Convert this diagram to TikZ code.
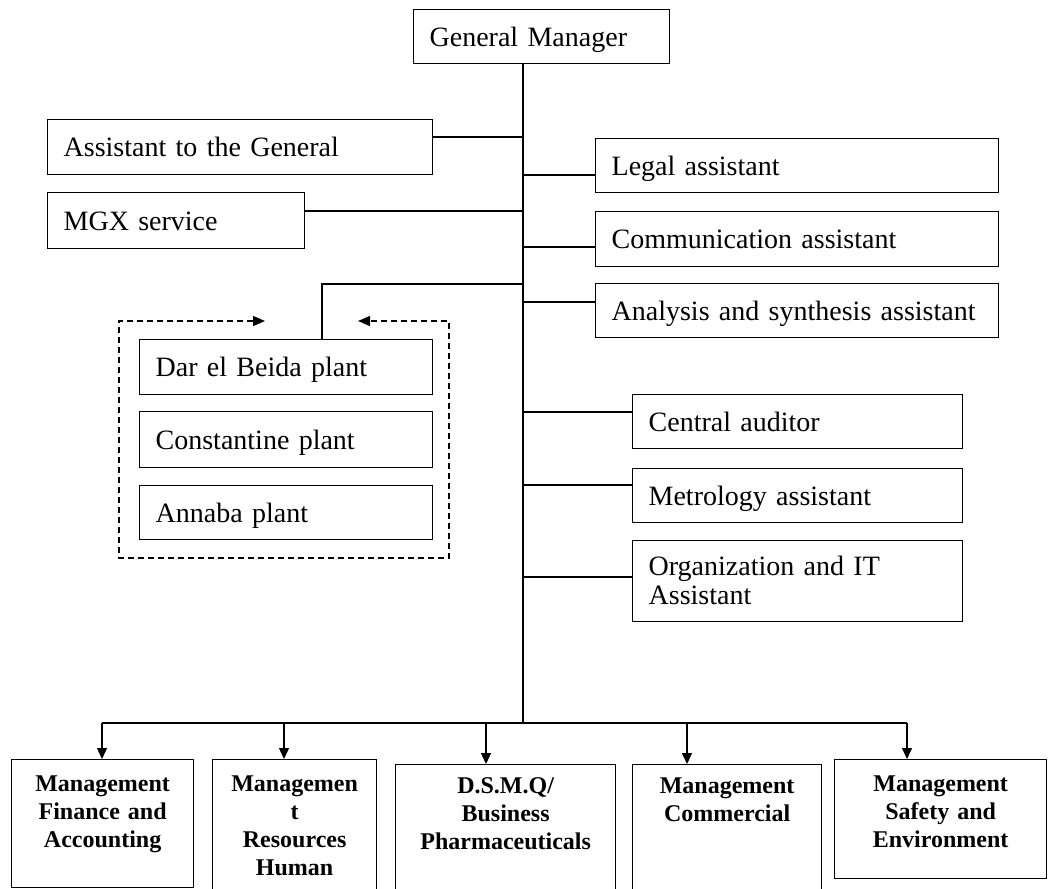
\documentclass[tikz,border=0pt]{standalone}
\usepackage{fontspec}
\setmainfont{Liberation Serif}
\usetikzlibrary{arrows.meta}
\begin{document}
\begin{tikzpicture}[x=1pt,y=-1pt,
  ln/.style={line width=1.3pt},
  box/.style={draw, line width=1.3pt, rectangle, anchor=north west, inner xsep=16pt, inner ysep=0pt, align=left, text height=22pt, text depth=3pt, font=\fontsize{28}{29}\selectfont},
  bbox/.style={draw, line width=1.3pt, rectangle, anchor=north west, inner xsep=4pt, inner ysep=0pt, align=center, text height=17pt, font=\bfseries\fontsize{24}{28}\selectfont},
  arr/.style={line width=1.3pt, -{Triangle[length=11pt,width=10pt]}},
  dashframe/.style={line width=1.3pt, dash pattern=on 6pt off 4pt, {Triangle[length=12pt,width=10pt]}-{Triangle[length=12pt,width=10pt]}}
]
\useasboundingbox (0,0) rectangle (1048,888);
\clip (0,0) rectangle (1048,888);

% top
\node[box, minimum width=256pt, minimum height=54pt, text width=224pt] (gm) at (413,9) {General Manager};
% left
\node[box, minimum width=385pt, minimum height=55pt, text width=353pt] (a1) at (47,119) {Assistant to the General};
\node[box, minimum width=257pt, minimum height=56pt, text width=225pt] (a2) at (47,192) {MGX service};
% right
\node[box, minimum width=403pt, minimum height=54pt, text width=371pt] (r1) at (595,138) {Legal assistant};
\node[box, minimum width=403pt, minimum height=55pt, text width=371pt] (r2) at (595,211) {Communication assistant};
\node[box, minimum width=403pt, minimum height=54pt, text width=371pt] (r3) at (595,283) {Analysis and synthesis assistant};
% plants
\node[box, minimum width=293pt, minimum height=55pt, text width=261pt] (p1) at (139,339) {Dar el Beida plant};
\node[box, minimum width=293pt, minimum height=56pt, text width=261pt] (p2) at (139,411) {Constantine plant};
\node[box, minimum width=293pt, minimum height=54pt, text width=261pt] (p3) at (139,485) {Annaba plant};
% lower right
\node[box, minimum width=330pt, minimum height=54pt, text width=298pt] (c1) at (632,394) {Central auditor};
\node[box, minimum width=330pt, minimum height=54pt, text width=298pt] (c2) at (632,468) {Metrology assistant};
\node[box, minimum width=330pt, minimum height=81pt, text width=298pt, text depth=33pt] (c3) at (632,540) {Organization and IT\\Assistant};
% bottom
\node[bbox, minimum width=182pt, minimum height=128pt, text width=174pt, text depth=81pt] (b1) at (11,759) {Management\\Finance and\\Accounting};
\node[bbox, minimum width=164pt, minimum height=141pt, text width=156pt, text depth=94pt] (b2) at (212,759) {Managemen\\t\\Resources\\Human};
\node[bbox, minimum width=220pt, minimum height=136pt, text width=212pt, text depth=95pt] (b3) at (395,764) {D.S.M.Q/\\Business\\Pharmaceuticals};
\node[bbox, minimum width=189pt, minimum height=136pt, text width=181pt, text depth=95pt] (b4) at (632,764) {Management\\Commercial};
\node[bbox, minimum width=212pt, minimum height=119pt, text width=204pt, text depth=72pt] (b5) at (834,759) {Management\\Safety and\\Environment};

% trunk
\coordinate (tb) at (523,723);
\coordinate (t0) at (tb |- gm.south);
\draw[ln] (t0) -- (tb);
\coordinate (j1) at (523,137);
\coordinate (j2) at (523,211);
\coordinate (j3) at (523,175);
\coordinate (j4) at (523,247);
\coordinate (j5) at (523,302);
\coordinate (j6) at (523,284);
\coordinate (k6) at (322,284);
\coordinate (j7) at (523,412);
\coordinate (j8) at (523,485);
\coordinate (j9) at (523,577);
\draw[ln] (j1) -- (j1 -| a1.east);
\draw[ln] (j2) -- (j2 -| a2.east);
\draw[ln] (j3) -- (j3 -| r1.west);
\draw[ln] (j4) -- (j4 -| r2.west);
\draw[ln] (j5) -- (j5 -| r3.west);
\draw[ln] (j6) -- (k6) -- (k6 |- p1.north);
\draw[ln] (j7) -- (j7 -| c1.west);
\draw[ln] (j8) -- (j8 -| c2.west);
\draw[ln] (j9) -- (j9 -| c3.west);

% dashed frame
\coordinate (f1) at (265,321);
\coordinate (f2) at (358,321);
\draw[dashframe] (f1) -- (119,321) -- (119,558) -- (449,558) -- (449,321) -- (f2);

% bottom distribution
\coordinate (d1) at (102,723);
\coordinate (d2) at (284,723);
\coordinate (d3) at (486,723);
\coordinate (d4) at (687,723);
\coordinate (d5) at (907,723);
\draw[ln] (d1) -- (d5);
\draw[arr] (d1) -- (d1 |- b1.north);
\draw[arr] (d2) -- (d2 |- b2.north);
\draw[arr] (d3) -- (d3 |- b3.north);
\draw[arr] (d4) -- (d4 |- b4.north);
\draw[arr] (d5) -- (d5 |- b5.north);
\end{tikzpicture}
\end{document}
